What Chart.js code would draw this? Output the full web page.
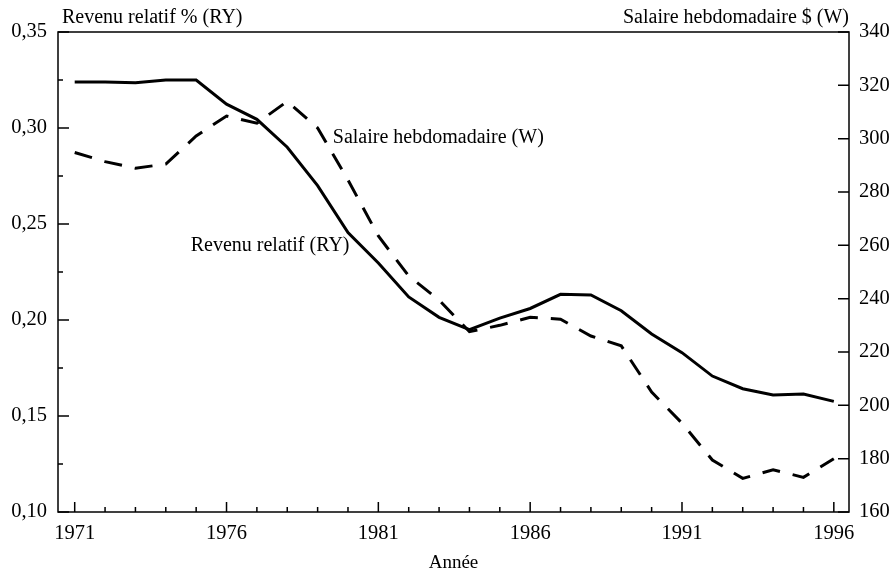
<!DOCTYPE html>
<html>
<head>
<meta charset="utf-8">
<script src="https://cdn.jsdelivr.net/npm/chart.js@4"></script>
<style>
  body { margin: 0; background: #fff; }
  canvas { display: block; }
</style>
</head>
<body>
<canvas id="chart" width="896" height="574"></canvas>
<script>
// Revenu relatif (RY) et salaire hebdomadaire (W), 1971-1996

const years = [1971, 1972, 1973, 1974, 1975, 1976, 1977, 1978, 1979, 1980,
               1981, 1982, 1983, 1984, 1985, 1986, 1987, 1988, 1989, 1990,
               1991, 1992, 1993, 1994, 1995, 1996];
const revenuRelatif = [0.324, 0.324, 0.3236, 0.325, 0.325, 0.3124, 0.3045, 0.290, 0.270, 0.2455,
                       0.2297, 0.212, 0.2014, 0.195, 0.201, 0.206, 0.2134, 0.213, 0.2048, 0.1927,
                       0.183, 0.1708, 0.1642, 0.161, 0.1615, 0.1576];
const salaireHebdo = [294.8, 291.4, 288.9, 290.5, 301, 308.5, 305.8, 314, 304, 284.5,
                      263.5, 248.5, 239.5, 227.6, 230, 233, 232.3, 226, 222.3, 205,
                      193.3, 179.5, 172.6, 175.8, 173, 180];

const yearTicks = [1971, 1976, 1981, 1986, 1991, 1996];
const leftTicks = [0.10, 0.15, 0.20, 0.25, 0.30, 0.35];
const leftLabels = ['0,10', '0,15', '0,20', '0,25', '0,30', '0,35'];
const rightTicks = [160, 180, 200, 220, 240, 260, 280, 300, 320, 340];

const FONT = "'Liberation Serif', 'DejaVu Serif', serif";

// major ticks plus a minor tick halfway between each pair
function withMinor(major) {
    let out = [];
    for (let i = 0; i < major.length; i++) {
        out.push(major[i]);
        if (i < major.length - 1) out.push((major[i] + major[i + 1]) / 2);
    }
    return out;
}

function isMajor(list, v) {
    return list.some(m => Math.abs(m - v) < 1e-6);
}

// inward tick marks + frame
const framePlugin = {
    id: 'frame',
    afterDraw(chart) {
        const ctx = chart.ctx;
        const a = chart.chartArea;
        const sx = chart.scales.x, sy = chart.scales.y, sy1 = chart.scales.y1;
        ctx.save();
        ctx.strokeStyle = '#000';
        ctx.lineWidth = 1.5;
        ctx.strokeRect(a.left, a.top, a.right - a.left, a.bottom - a.top);

        ctx.beginPath();
        sx.ticks.forEach(t => {
            const px = sx.getPixelForValue(t.value);
            const len = isMajor(yearTicks, t.value) ? 10 : 5;
            ctx.moveTo(px, a.bottom);
            ctx.lineTo(px, a.bottom - len);
        });
        sy.ticks.forEach(t => {
            const py = sy.getPixelForValue(t.value);
            const len = isMajor(leftTicks, t.value) ? 11 : 5;
            ctx.moveTo(a.left, py);
            ctx.lineTo(a.left + len, py);
        });
        sy1.ticks.forEach(t => {
            const py = sy1.getPixelForValue(t.value);
            const len = isMajor(rightTicks, t.value) ? 11 : 5;
            ctx.moveTo(a.right, py);
            ctx.lineTo(a.right - len, py);
        });
        ctx.stroke();

        // axis titles on top and series labels
        ctx.fillStyle = '#000';
        ctx.font = '20px ' + FONT;
        ctx.textBaseline = 'middle';
        ctx.textAlign = 'left';
        ctx.fillText('Revenu relatif % (RY)', a.left + 4, 18);
        ctx.textAlign = 'right';
        ctx.fillText('Salaire hebdomadaire $ (W)', a.right, 18);

        ctx.textAlign = 'left';
        ctx.fillText('Salaire hebdomadaire (W)', sx.getPixelForValue(1979.5), sy.getPixelForValue(0.2948));
        ctx.fillText('Revenu relatif (RY)', sx.getPixelForValue(1974.82), sy.getPixelForValue(0.2385));
        ctx.restore();
    }
};

const ctx = document.getElementById('chart').getContext('2d');
new Chart(ctx, {
    type: 'line',
    data: {
        datasets: [{
            label: 'Revenu relatif (RY)',
            data: years.map((y, i) => ({ x: y, y: revenuRelatif[i] })),
            yAxisID: 'y',
            borderColor: '#000',
            borderWidth: 3,
            pointRadius: 0,
            tension: 0
        }, {
            label: 'Salaire hebdomadaire (W)',
            data: years.map((y, i) => ({ x: y, y: salaireHebdo[i] })),
            yAxisID: 'y1',
            borderColor: '#000',
            borderWidth: 3,
            borderDash: [18, 13],
            pointRadius: 0,
            tension: 0
        }]
    },
    options: {
        responsive: false,
        animation: false,
        layout: { padding: { top: 32, left: 0, right: 0, bottom: 0 } },
        plugins: {
            legend: { display: false },
            tooltip: { enabled: false }
        },
        scales: {
            x: {
                type: 'linear',
                min: 1970.45,
                max: 1996.5,
                grid: { display: false, drawTicks: false },
                border: { display: false },
                afterBuildTicks(s) { s.ticks = years.map(v => ({ value: v })); },
                afterFit(s) { s.height = 62; },
                ticks: {
                    autoSkip: false,
                    maxRotation: 0,
                    padding: 9,
                    color: '#000',
                    font: { family: FONT, size: 20.5 },
                    callback: v => isMajor(yearTicks, v) ? String(v) : ''
                },
                title: {
                    display: true,
                    text: 'Année',
                    color: '#000',
                    font: { family: FONT, size: 19 },
                    padding: { top: 0, bottom: 0 }
                }
            },
            y: {
                position: 'left',
                min: 0.10,
                max: 0.35,
                grid: { display: false, drawTicks: false },
                border: { display: false },
                afterBuildTicks(s) { s.ticks = withMinor(leftTicks).map(v => ({ value: v })); },
                afterFit(s) { s.width = 58; },
                ticks: {
                    padding: 11,
                    color: '#000',
                    font: { family: FONT, size: 20.5 },
                    callback: v => {
                        const i = leftTicks.findIndex(m => Math.abs(m - v) < 1e-6);
                        return i >= 0 ? leftLabels[i] : '';
                    }
                }
            },
            y1: {
                position: 'right',
                min: 160,
                max: 340,
                grid: { display: false, drawTicks: false },
                border: { display: false },
                afterBuildTicks(s) { s.ticks = withMinor(rightTicks).map(v => ({ value: v })); },
                afterFit(s) { s.width = 47; },
                ticks: {
                    padding: 10,
                    color: '#000',
                    font: { family: FONT, size: 20.5 },
                    callback: v => isMajor(rightTicks, v) ? String(v) : ''
                }
            }
        }
    },
    plugins: [framePlugin]
});
</script>
</body>
</html>
